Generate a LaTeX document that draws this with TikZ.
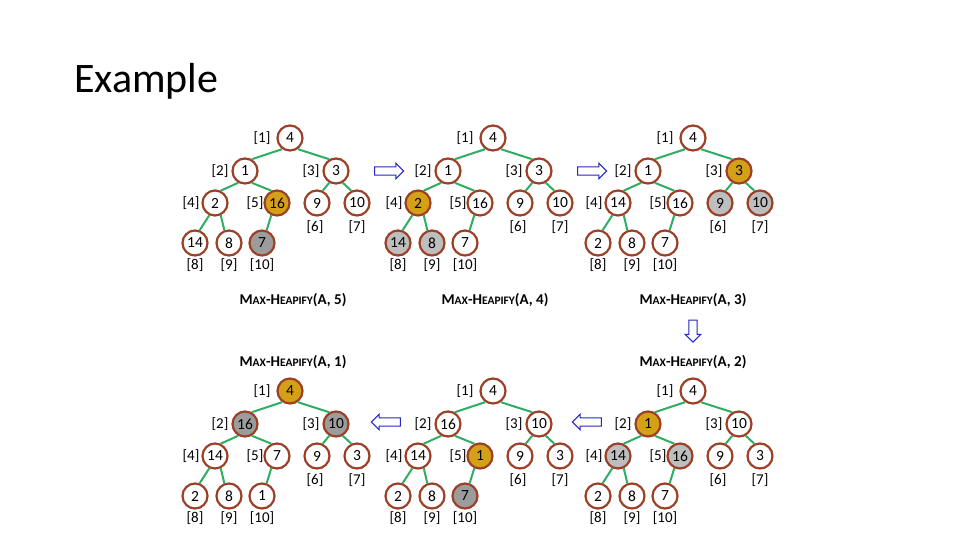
\documentclass[tikz,border=0pt]{standalone}
\usepackage{fontspec}
\setmainfont{Carlito}
\usetikzlibrary{shapes.arrows}
\definecolor{nodeborder}{HTML}{9C3F27}
\definecolor{goldfill}{HTML}{D4A017}
\definecolor{darkgrayfill}{HTML}{9C9C9C}
\definecolor{lightgrayfill}{HTML}{BEBEBE}
\definecolor{edgegreen}{HTML}{2EAD63}
\definecolor{arrowblue}{HTML}{2626C4}
\expandafter\def\csname hpos1\endcsname{(0,0)}
\expandafter\def\csname hpos2\endcsname{(-45,33)}
\expandafter\def\csname hpos3\endcsname{(46,33)}
\expandafter\def\csname hpos4\endcsname{(-75,65)}
\expandafter\def\csname hpos5\endcsname{(-13,65)}
\expandafter\def\csname hpos6\endcsname{(27,65)}
\expandafter\def\csname hpos7\endcsname{(67,65)}
\expandafter\def\csname hpos8\endcsname{(-95,105)}
\expandafter\def\csname hpos9\endcsname{(-61,105)}
\expandafter\def\csname hpos10\endcsname{(-28,105)}
\expandafter\def\csname lpos1\endcsname{(-28,0)}
\expandafter\def\csname lpos2\endcsname{(-70,33)}
\expandafter\def\csname lpos3\endcsname{(21,33)}
\expandafter\def\csname lpos4\endcsname{(-99,65)}
\expandafter\def\csname lpos5\endcsname{(-35,65)}
\expandafter\def\csname lpos6\endcsname{(25,89)}
\expandafter\def\csname lpos7\endcsname{(67,89)}
\expandafter\def\csname lpos8\endcsname{(-95,127)}
\expandafter\def\csname lpos9\endcsname{(-61,127)}
\expandafter\def\csname lpos10\endcsname{(-28,127)}
\tikzset{
  hnode/.style={circle, draw=nodeborder, line width=2.2pt, fill=white, minimum size=25pt, inner sep=0pt, font=\fontsize{15.5}{15.5}\selectfont},
  plain/.style={},
  gold/.style={fill=goldfill},
  dgray/.style={fill=darkgrayfill},
  lgray/.style={fill=lightgrayfill},
  idx/.style={inner sep=0pt, font=\fontsize{15}{15}\selectfont},
  hedge/.style={draw=edgegreen, line width=2pt},
  blockarrow/.style={single arrow, draw=arrowblue, line width=1.1pt, fill=white, minimum height=29pt, single arrow head extend=3.5pt, inner sep=3.6pt},
  mhlabel/.style={inner sep=0pt, font=\fontsize{15}{15}\selectfont\bfseries},
}
\newcommand\mhtext[1]{M{\fontsize{11.5}{12}\selectfont AX}-H{\fontsize{11.5}{12}\selectfont EAPIFY}(A,~#1)}
\newcommand\htree[3]{%
  \begin{scope}[shift={#2}]
    \foreach \i/\v/\s in {#3} {
      \node[hnode,\s] (#1n\i) at \csname hpos\i\endcsname {\v};
      \node[idx] (#1l\i) at \csname lpos\i\endcsname {[\i]};
    }
  \end{scope}
  \draw[hedge] (#1n1.-125) -- (#1n2.60);
  \draw[hedge] (#1n1.-55) -- (#1n3.120);
  \draw[hedge] (#1n2.-120) -- (#1n4.65);
  \draw[hedge] (#1n2.-60) -- (#1n5.115);
  \draw[hedge] (#1n3.-120) -- (#1n6.65);
  \draw[hedge] (#1n3.-60) -- (#1n7.115);
  \draw[hedge] (#1n4.-115) -- (#1n8.70);
  \draw[hedge] (#1n4.-65) -- (#1n9.110);
  \draw[hedge] (#1n5.-115) -- (#1n10.70);
}
\begin{document}
\begin{tikzpicture}[x=1pt, y=-1pt]
  \useasboundingbox (0,0) rectangle (960,540);
  \node[anchor=base west, inner sep=0pt, font=\fontsize{42}{42}\selectfont] (title) at (74,93) {Example};

  \htree{a}{(290,138)}{1/4/plain,2/1/plain,3/3/plain,4/2/plain,5/16/gold,6/9/plain,7/10/plain,8/14/plain,9/8/plain,10/7/dgray}
  \htree{b}{(493,138)}{1/4/plain,2/1/plain,3/3/plain,4/2/gold,5/16/plain,6/9/plain,7/10/plain,8/14/lgray,9/8/lgray,10/7/plain}
  \htree{c}{(693,138)}{1/4/plain,2/1/plain,3/3/gold,4/14/plain,5/16/plain,6/9/lgray,7/10/lgray,8/2/plain,9/8/plain,10/7/plain}
  \htree{d}{(290,391)}{1/4/gold,2/16/dgray,3/10/dgray,4/14/plain,5/7/plain,6/9/plain,7/3/plain,8/2/plain,9/8/plain,10/1/plain}
  \htree{e}{(493,391)}{1/4/plain,2/16/plain,3/10/plain,4/14/plain,5/1/gold,6/9/plain,7/3/plain,8/2/plain,9/8/plain,10/7/dgray}
  \htree{f}{(693,391)}{1/4/plain,2/1/gold,3/10/plain,4/14/lgray,5/16/lgray,6/9/plain,7/3/plain,8/2/plain,9/8/plain,10/7/plain}

  \node[mhlabel] (ma) at (293,300) {\mhtext{5}};
  \node[mhlabel] (mb) at (495,300) {\mhtext{4}};
  \node[mhlabel] (mc) at (693,300) {\mhtext{3}};
  \node[mhlabel] (mf) at (693,362) {\mhtext{2}};
  \node[mhlabel] (md) at (293,362) {\mhtext{1}};

  \node[blockarrow] (ar1) at (387,171) {};
  \node[blockarrow] (ar2) at (590,171) {};
  \node[blockarrow, shape border rotate=270, minimum height=22pt] (ar3) at (693,329) {};
  \node[blockarrow, shape border rotate=180] (ar4) at (589,422) {};
  \node[blockarrow, shape border rotate=180] (ar5) at (388,422) {};
\end{tikzpicture}
\end{document}
